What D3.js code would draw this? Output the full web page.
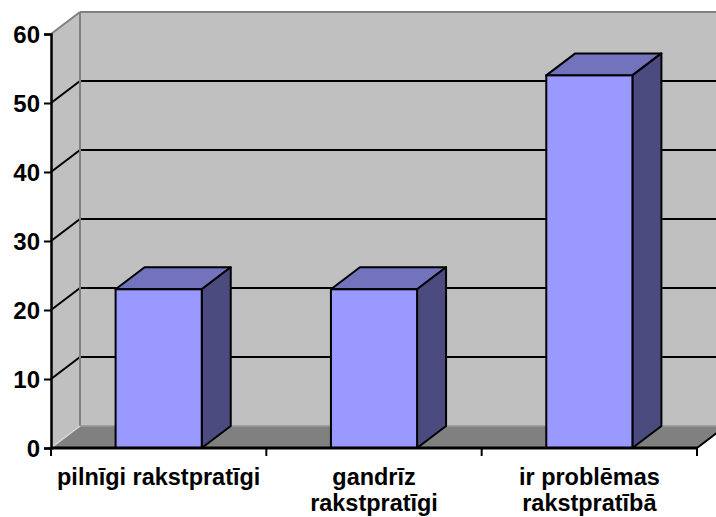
<!DOCTYPE html>
<html><head><meta charset="utf-8">
<script src="https://cdn.jsdelivr.net/npm/d3@7"></script>
<style>html,body{margin:0;padding:0;background:#fff;}svg{display:block;}</style>
</head><body>
<svg id="chart" width="716" height="517"></svg>
<script>
const categories = ["pilnīgi rakstpratīgi", "gandrīz rakstpratīgi", "ir problēmas rakstpratībā"];
const labelLines = [["pilnīgi rakstpratīgi"], ["gandrīz", "rakstpratīgi"], ["ir problēmas", "rakstpratībā"]];
const values = [23, 23, 54];
const yTicks = [0, 10, 20, 30, 40, 50, 60];

const svg = d3.select("#chart");
const x0 = 51, x1 = 697, yBottom = 448, yTop = 34;
const dx = 29, dy = -22;
const y = d3.scaleLinear().domain([0, 60]).range([yBottom, yTop]);
const x = d3.scaleBand().domain(categories).range([x0, x1]).paddingInner(0.6).paddingOuter(0.3);
const font = "'Liberation Sans', Arial, sans-serif";

const poly = pts => pts.map(p => p.join(",")).join(" ");

// back wall
svg.append("polygon").attr("points", poly([[x0+dx, y(60)+dy],[x1+dx+40, y(60)+dy],[x1+dx+40, y(0)+dy],[x0+dx, y(0)+dy]]))
  .attr("fill", "#c0c0c0");
// side wall
svg.append("polygon").attr("points", poly([[x0, y(60)],[x0+dx, y(60)+dy],[x0+dx, y(0)+dy],[x0, y(0)]]))
  .attr("fill", "#c0c0c0");
// floor
svg.append("polygon").attr("points", poly([[x0, y(0)],[x1, y(0)],[x1+dx, y(0)+dy],[x0+dx, y(0)+dy]]))
  .attr("fill", "#808080");

// gridlines (back wall + side wall)
const grid = yTicks.filter(v => v > 0 && v < 60);
svg.selectAll("line.gb").data(grid).join("line")
  .attr("x1", x0+dx).attr("x2", 716).attr("y1", d => y(d)+dy).attr("y2", d => y(d)+dy)
  .attr("stroke", "#000").attr("stroke-width", 2);
svg.selectAll("line.gs").data(grid).join("line")
  .attr("x1", x0).attr("x2", x0+dx).attr("y1", d => y(d)).attr("y2", d => y(d)+dy)
  .attr("stroke", "#000").attr("stroke-width", 2);

// wall edges
svg.append("line").attr("x1", x0+dx).attr("x2", x0+dx).attr("y1", y(60)+dy).attr("y2", y(0)+dy)
  .attr("stroke", "#808080").attr("stroke-width", 2);
svg.append("line").attr("x1", x0+dx).attr("x2", 716).attr("y1", y(60)+dy).attr("y2", y(60)+dy)
  .attr("stroke", "#808080").attr("stroke-width", 2);
svg.append("line").attr("x1", x0).attr("x2", x0+dx).attr("y1", y(60)).attr("y2", y(60)+dy)
  .attr("stroke", "#808080").attr("stroke-width", 2);
svg.append("line").attr("x1", x0+dx).attr("x2", 716).attr("y1", y(0)+dy).attr("y2", y(0)+dy)
  .attr("stroke", "#999999").attr("stroke-width", 1.5);
svg.append("line").attr("x1", x0).attr("x2", x0+dx).attr("y1", y(0)).attr("y2", y(0)+dy)
  .attr("stroke", "#d8d8d8").attr("stroke-width", 1.5);
// floor right edge
svg.append("line").attr("x1", x1).attr("x2", x1+dx).attr("y1", y(0)).attr("y2", y(0)+dy)
  .attr("stroke", "#000").attr("stroke-width", 2);

// bars
const bw = x.bandwidth();
const bars = svg.selectAll("g.bar").data(categories.map((c, i) => ({c, v: values[i]}))).join("g");
bars.append("polygon").attr("points", d => {
  const l = x(d.c), r = l + bw, t = y(d.v);
  return poly([[l, t],[l+dx, t+dy],[r+dx, t+dy],[r, t]]);
}).attr("fill", "#7373bd").attr("stroke", "#000").attr("stroke-width", 2).attr("stroke-linejoin", "round");
bars.append("polygon").attr("points", d => {
  const r = x(d.c) + bw, t = y(d.v), b = y(0);
  return poly([[r, t],[r+dx, t+dy],[r+dx, b+dy],[r, b]]);
}).attr("fill", "#4b4b7f").attr("stroke", "#000").attr("stroke-width", 2).attr("stroke-linejoin", "round");
bars.append("rect").attr("x", d => x(d.c)).attr("y", d => y(d.v)).attr("width", bw)
  .attr("height", d => y(0) - y(d.v))
  .attr("fill", "#9999ff").attr("stroke", "#000").attr("stroke-width", 2);

// y axis
const yAxis = svg.append("g").attr("transform", `translate(${x0},0)`)
  .call(d3.axisLeft(y).tickValues(yTicks).tickSize(7).tickPadding(4).tickFormat(d3.format("d")));
yAxis.select(".domain").attr("stroke", "#000").attr("stroke-width", 2.5);
yAxis.selectAll(".tick line").attr("stroke", "#000").attr("stroke-width", 2);
yAxis.selectAll(".tick text").attr("font-family", font).attr("font-size", 24).attr("font-weight", "bold")
  .attr("fill", "#000").attr("dy", "0.36em");

// x axis line and ticks
svg.append("line").attr("x1", x0).attr("x2", x1).attr("y1", y(0)).attr("y2", y(0))
  .attr("stroke", "#000").attr("stroke-width", 3);
const step = x.step();
const bounds = d3.range(categories.length + 1).map(i => x0 + i * step);
svg.selectAll("line.xt").data(bounds).join("line")
  .attr("x1", d => d).attr("x2", d => d).attr("y1", y(0)).attr("y2", y(0) + 8)
  .attr("stroke", "#000").attr("stroke-width", 2);

// category labels
categories.forEach((c, i) => {
  const cx = x(c) + bw / 2;
  const t = svg.append("text").attr("transform", `translate(${cx},485) scale(1.02,1)`)
    .attr("text-anchor", "middle").attr("font-family", font).attr("font-size", 23).attr("font-weight", "bold").attr("fill", "#000");
  labelLines[i].forEach((ln, j) => t.append("tspan").attr("x", 0).attr("y", j * 26).text(ln));
});
</script>
</body></html>
